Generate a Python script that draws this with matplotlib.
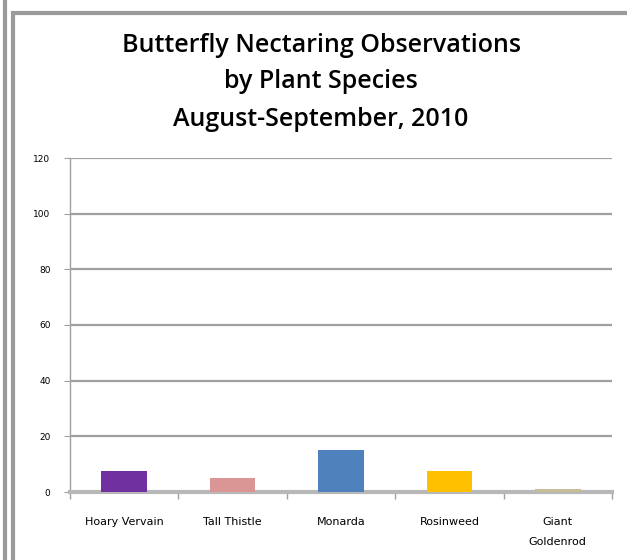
import matplotlib
matplotlib.use("Agg")
import matplotlib.pyplot as plt
from matplotlib.patches import Rectangle
from matplotlib.lines import Line2D

categories = ["Hoary Vervain", "Tall Thistle", "Monarda", "Rosinweed", "Giant\nGoldenrod"]
values = [7.5, 5, 15, 7.5, 1]
colors = ["#7030A0", "#D99694", "#4F81BD", "#FFC000", "#C4BD97"]
yticks = [0, 20, 40, 60, 80, 100, 120]

W, H = 627, 560
dpi = 100
fig = plt.figure(figsize=(W / dpi, H / dpi), dpi=dpi)
fig.patch.set_facecolor("white")

# outer frames
fig.add_artist(Line2D([5 / W, 5 / W], [0, 1], color="#9a9a9a", lw=3))
fig.add_artist(Rectangle((13 / W, -0.1), 1, (H - 13) / H + 0.1, fill=False,
                         edgecolor="#9a9a9a", lw=3, transform=fig.transFigure))

ax = fig.add_axes([70 / W, (H - 492) / H, (612 - 70) / W, (492 - 158) / H])
x = list(range(len(categories)))
ax.bar(x, values, width=0.42, color=colors, zorder=3)
ax.set_xlim(-0.5, len(categories) - 0.5)
ax.set_ylim(0, 120)
ax.set_yticks(yticks)
ax.set_yticklabels([str(v) for v in yticks], fontsize=6.5, family="DejaVu Sans")
ax.yaxis.grid(True, color="#a0a0a0", lw=1.6, zorder=0)
ax.set_axisbelow(True)
for s in ["top", "right"]:
    ax.spines[s].set_visible(False)
ax.spines["left"].set_color("#a0a0a0")
ax.spines["left"].set_linewidth(1)
ax.spines["bottom"].set_color("#b8b8b8")
ax.spines["bottom"].set_linewidth(3)
ax.tick_params(axis="y", length=4, color="#a0a0a0", pad=10)
ax.set_xticks([i - 0.5 for i in range(len(categories) + 1)], minor=False)
ax.set_xticklabels([])
ax.tick_params(axis="x", length=5, color="#a0a0a0", width=1)
ax.set_xticks(x, minor=True)
ax.set_xticklabels(categories, minor=True, fontsize=8, linespacing=2.2, va="top")
ax.tick_params(axis="x", which="minor", length=0, pad=18)

title_kw = dict(ha="center", va="center", fontsize=18, family="Open Sans", weight="semibold")
fig.text(321 / W, 1 - 46 / H, "Butterfly Nectaring Observations", **title_kw)
fig.text(321 / W, 1 - 82 / H, "by Plant Species", **title_kw)
fig.text(321 / W, 1 - 120 / H, "August-September, 2010", **title_kw)

fig.savefig("out.png", dpi=dpi)
